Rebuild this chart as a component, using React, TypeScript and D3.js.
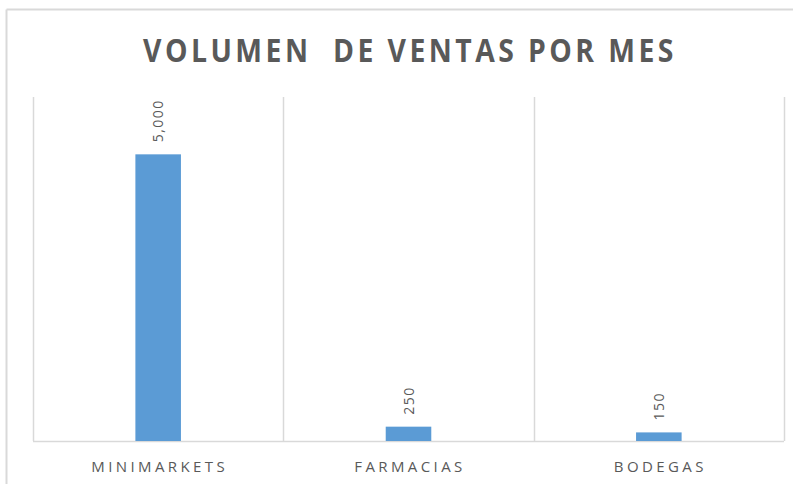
import { useEffect, useRef } from 'react';
import * as d3 from 'd3';

const categories = ['MINIMARKETS', 'FARMACIAS', 'BODEGAS'];
const values = [5000, 250, 150];
const axisMax = 6000;
const title = 'VOLUMEN  DE VENTAS POR MES';

export default function App() {
  const svgRef = useRef<SVGSVGElement>(null);

  useEffect(() => {
    if (!svgRef.current) return;
    const svg = d3.select(svgRef.current);
    svg.selectAll('*').remove();

    const width = 793;
    const height = 484;
    const margin = { top: 97, right: 9, bottom: 43, left: 33 };
    const font = "'Open Sans', 'Liberation Sans', sans-serif";
    const textColor = '#595959';
    const gridColor = '#d9d9d9';

    svg.append('rect').attr('width', width).attr('height', height).attr('fill', '#fff');

    // outer chart border (only top/left are visible in the crop)
    svg.append('line')
      .attr('x1', 6.5).attr('x2', width).attr('y1', 9.5).attr('y2', 9.5)
      .attr('stroke', gridColor).attr('stroke-width', 2);
    svg.append('line')
      .attr('x1', 6.5).attr('x2', 6.5).attr('y1', 9.5).attr('y2', height)
      .attr('stroke', gridColor).attr('stroke-width', 2);

    const x = d3.scaleBand()
      .domain(categories)
      .range([margin.left, width - margin.right])
      .paddingInner(0)
      .paddingOuter(0);

    const y = d3.scaleLinear()
      .domain([0, axisMax])
      .range([height - margin.bottom, margin.top]);

    // vertical separators between categories
    const edges = categories.map(c => x(c)!).concat([x.range()[1]]);
    svg.append('g')
      .selectAll('line')
      .data(edges)
      .enter().append('line')
      .attr('x1', d => Math.round(d) + 0.5)
      .attr('x2', d => Math.round(d) + 0.5)
      .attr('y1', y(axisMax))
      .attr('y2', y(0))
      .attr('stroke', gridColor)
      .attr('stroke-width', 1.5);

    // baseline
    svg.append('line')
      .attr('x1', x.range()[0]).attr('x2', x.range()[1])
      .attr('y1', y(0) + 0.5).attr('y2', y(0) + 0.5)
      .attr('stroke', gridColor)
      .attr('stroke-width', 1.5);

    const barW = x.bandwidth() * 0.182;

    svg.append('g')
      .selectAll('rect')
      .data(values)
      .enter().append('rect')
      .attr('x', (d, i) => x(categories[i])! + x.bandwidth() / 2 - barW / 2)
      .attr('y', d => y(d))
      .attr('width', barW)
      .attr('height', d => y(0) - y(d))
      .attr('fill', '#5b9bd5');

    // rotated value labels
    svg.append('g')
      .selectAll('text')
      .data(values)
      .enter().append('text')
      .attr('transform', (d, i) => `translate(${x(categories[i])! + x.bandwidth() / 2 + 5},${y(d) - 12}) rotate(-90)`)
      .attr('font-family', font)
      .attr('font-size', '14px')
      .attr('letter-spacing', '1.5px')
      .attr('fill', textColor)
      .text(d => d3.format(',')(d));

    // category labels
    svg.append('g')
      .selectAll('text')
      .data(categories)
      .enter().append('text')
      .attr('x', d => x(d)! + x.bandwidth() / 2 + 1.5)
      .attr('y', 472)
      .attr('text-anchor', 'middle')
      .attr('font-family', font)
      .attr('font-size', '15px')
      .attr('letter-spacing', '3.4px')
      .attr('fill', textColor)
      .text(d => d);

    svg.append('text')
      .attr('transform', 'translate(410,62) scale(0.86,1)')
      .attr('text-anchor', 'middle')
      .attr('font-family', font)
      .attr('font-size', '33px')
      .attr('font-weight', 'bold')
      .attr('letter-spacing', '4px')
      .attr('fill', textColor)
      .style('white-space', 'pre')
      .text(title);
  }, []);

  return (
    <svg
      ref={svgRef}
      width={793}
      height={484}
      style={{ position: 'absolute', left: 0, top: 0 }}
    />
  );
}
